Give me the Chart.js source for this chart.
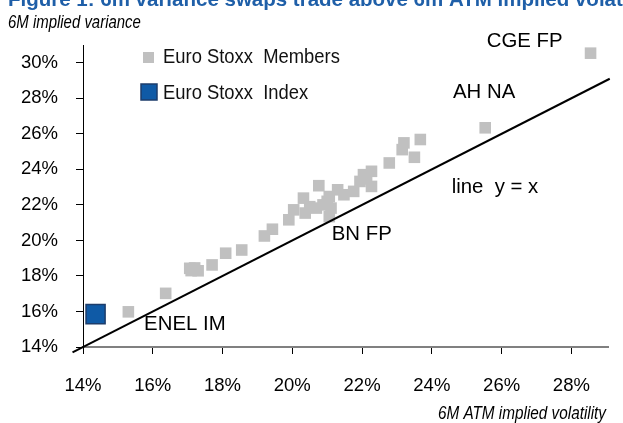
<!DOCTYPE html>
<html>
<head>
<meta charset="utf-8">
<script src="https://cdn.jsdelivr.net/npm/chart.js@4.4.1/dist/chart.umd.min.js"></script>
<style>
  html, body { margin: 0; padding: 0; background: #fff; }
  #wrap { width: 623px; height: 423px; }
</style>
</head>
<body>
<div id="wrap"><canvas id="chart" width="623" height="423"></canvas></div>
<script>
// Euro Stoxx members: 6M ATM implied vol (x) vs 6M implied variance (y), in %
const memberVol = [15.30, 16.37, 17.06, 17.10, 17.20, 17.30, 17.70, 18.09, 18.55, 19.20,
  19.43, 19.90, 20.04, 20.32, 20.37, 20.50, 20.69, 20.76, 20.88, 21.00, 21.06, 21.06,
  21.11, 21.30, 21.48, 21.76, 21.94, 22.04, 22.13, 22.27, 22.27, 22.78, 23.15, 23.20,
  23.50, 23.67, 25.53, 28.55];
const memberVar = [15.98, 17.02, 18.43, 18.30, 18.45, 18.29, 18.62, 19.28, 19.46, 20.25,
  20.63, 21.16, 21.72, 22.38, 21.54, 21.90, 21.82, 23.08, 22.00, 22.20, 22.47, 21.34,
  21.82, 22.85, 22.57, 22.76, 23.32, 23.70, 23.46, 23.89, 23.04, 24.36, 25.11, 25.49,
  24.68, 25.68, 26.34, 30.54];
const indexVol = [14.36];
const indexVar = [15.85];
const lineVol = [13.7, 29.1];

const xTicks = [14, 16, 18, 20, 22, 24, 26, 28];
const yTicks = [14, 16, 18, 20, 22, 24, 26, 28, 30];

const noteText = ["CGE FP", "AH NA", "BN FP", "ENEL IM", "line  y = x"];
const noteVol = [26.66, 25.50, 21.99, 16.92, 25.81];
const noteVar = [31.19, 28.36, 20.37, 15.28, 22.97];

const sans = '"Liberation Sans", Arial, sans-serif';

// no narrow face installed, so squeeze the text sideways
const squeezed = (ctx, text, x, y, align, sx) => {
  ctx.save();
  ctx.translate(x, y);
  ctx.scale(sx, 1);
  ctx.textAlign = align;
  ctx.fillText(text, 0, 0);
  ctx.restore();
};

const notesPlugin = {
  id: "notes",
  afterDraw(chart) {
    const { ctx, scales: { x, y } } = chart;
    ctx.save();
    ctx.textBaseline = "alphabetic";

    // title (cut by the top edge) and subtitle
    ctx.fillStyle = "#1f5fa8";
    ctx.font = "bold 20.5px " + sans;
    squeezed(ctx, "Figure 1: 6m variance swaps trade above 6m ATM implied volatility", 8, 6, "left", 1);
    ctx.fillStyle = "#000";
    ctx.font = "italic 18px " + sans;
    squeezed(ctx, "6M implied variance", 8, 28, "left", 0.83);

    // x axis title
    squeezed(ctx, "6M ATM implied volatility", 606, 419, "right", 0.85);

    // labels on the plot
    ctx.font = "21px " + sans;
    ctx.textBaseline = "middle";
    noteText.forEach((t, i) => {
      squeezed(ctx, t, x.getPixelForValue(noteVol[i]), y.getPixelForValue(noteVar[i]), "center", 0.97);
    });

    // legend
    ctx.fillStyle = "#c0c0c0";
    ctx.fillRect(143, 52, 11, 11);
    ctx.fillStyle = "#0f5aa6";
    ctx.fillRect(141, 84, 16, 16);
    ctx.strokeStyle = "#1d3d6b";
    ctx.lineWidth = 1.5;
    ctx.strokeRect(141, 84, 16, 16);
    ctx.fillStyle = "#111";
    ctx.font = "20px " + sans;
    squeezed(ctx, "Euro Stoxx  Members", 163, 57, "left", 0.92);
    squeezed(ctx, "Euro Stoxx  Index", 163, 93, "left", 0.92);
    ctx.restore();
  },
};

const ctx = document.querySelector("#chart");

let opts = {
  type: "scatter",
  data: {
    datasets: [
      {
        label: "line y = x",
        data: lineVol.map(v => ({ x: v, y: v })),
        showLine: true,
        borderColor: "#000",
        borderWidth: 2,
        pointRadius: 0,
        clip: false,
      },
      {
        label: "Euro Stoxx Index",
        data: indexVol.map((v, i) => ({ x: v, y: indexVar[i] })),
        pointStyle: "rect",
        pointRadius: 13.5,
        backgroundColor: "#0f5aa6",
        borderColor: "#1d3d6b",
        borderWidth: 1.5,
      },
      {
        label: "Euro Stoxx Members",
        data: memberVol.map((v, i) => ({ x: v, y: memberVar[i] })),
        pointStyle: "rect",
        pointRadius: 8.2,
        backgroundColor: "#c0c0c0",
        borderWidth: 0,
      },
    ],
  },
  options: {
    responsive: false,
    animation: false,
    devicePixelRatio: 1,
    events: [],
    layout: {
      padding: { top: 45, right: 0, bottom: 0, left: 0 },
    },
    scales: {
      x: {
        type: "linear",
        min: 14,
        max: 29.05,
        afterBuildTicks: scale => {
          scale.ticks = xTicks.map(v => ({ value: v }));
        },
        afterFit: scale => {
          scale.height = 76;
        },
        border: { display: true, color: "#808080", width: 2 },
        grid: { drawOnChartArea: false, drawTicks: true, tickLength: 7, tickColor: "#000" },
        ticks: {
          padding: 21,
          color: "#000",
          font: { family: sans, size: 18.5 },
          callback: v => v + "%",
        },
      },
      y: {
        type: "linear",
        min: 14,
        max: 31,
        afterBuildTicks: scale => {
          scale.ticks = yTicks.map(v => ({ value: v }));
        },
        afterFit: scale => {
          scale.width = 83;
        },
        border: { display: true, color: "#000", width: 1 },
        grid: { drawOnChartArea: false, drawTicks: true, tickLength: 7, tickColor: "#000" },
        ticks: {
          padding: 18,
          color: "#000",
          font: { family: sans, size: 18.5 },
          callback: v => v + "%",
        },
      },
    },
    plugins: {
      legend: { display: false },
      tooltip: { enabled: false },
    },
  },
  plugins: [notesPlugin],
};

const myChart = new Chart(ctx, opts);
</script>
</body>
</html>
